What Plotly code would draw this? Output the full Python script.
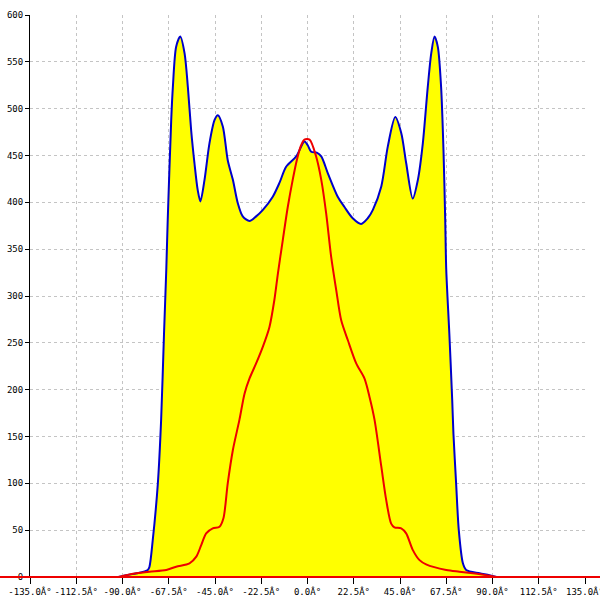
import plotly.graph_objects as go

# Blue series (filled yellow)
blue_x = [-92, -88.2, -83.0, -77.7, -76.9, -75.3, -72.8, -71.2, -69.8, -68.7, -68.0, -66.3, -65.5, -63.9,
          -61.9, -59.8, -58.2, -56.6, -55.0, -53.4, -52.1, -50.1, -47.7, -45.2, -43.6, -41.2, -38.8,
          -36.3, -33.9, -31.5, -28.2, -25.0, -21.7, -16.9, -13.6, -10.4, -5.5, -1.5, 0.1, 1.8, 4.5,
          6.7, 9.9, 14.7, 18.0, 22.0, 26.1, 29.3, 31.8, 35.9, 39.1, 42.7, 45.6, 48.0, 51.2, 53.7,
          56.1, 58.5, 60.2, 61.8, 63.4, 65.0, 66.2, 67.0, 67.5, 69.0, 70.4, 71.0, 72.3, 73.6, 75.6,
          77.2, 83.7, 88.5, 92]
blue_y = [0, 2, 4, 7.5, 10.7, 39, 100, 168, 260, 328, 381, 488, 523, 566,
          577, 559, 523, 477, 442, 413, 401, 424, 463, 488, 493, 481, 445,
          424, 399, 385, 380, 385, 392, 406, 421, 438, 449, 465, 461, 454, 453,
          449, 431, 406, 395, 383, 377, 383, 392, 417, 460, 491, 474, 442, 404, 424,
          463, 523, 559, 577, 566, 523, 452, 381, 328, 260, 189, 153, 100, 50, 14.6,
          7.5, 4, 2, 0]

# Red series
red_x = [-135, -92, -88.2, -83.3, -76.9, -68.7, -63.9, -57.4, -54.1, -51.7, -49.3, -46.1, -42.8,
         -40.9, -38.8, -36.3, -33.1, -30.6, -28.2, -25.0, -21.7, -18.5, -16.1, -14.4, -12.0, -9.6,
         -7.2, -5.2, -3.1, -1.5, 1.0, 4.2, 6.7, 9.1, 11.5, 14.0, 16.4, 19.6, 23.7, 27.7, 30.2,
         32.6, 35.9, 38.3, 40.7, 42.3, 45.6, 48.0, 51.2, 54.5, 57.7, 67.5, 73.9, 80.4, 86.9, 91.8, 135]
red_y = [0, 0, 2, 4, 5.7, 7.5, 11, 14.6, 21.7, 34, 46.6, 52, 53.7,
         62.7, 100, 135.6, 168, 196, 212, 228, 246, 267, 296, 324, 360, 395,
         424, 445, 461, 467, 467, 449, 424, 388, 342, 306, 274, 253, 228, 212, 192,
         168, 118, 82, 57, 53, 52, 46.6, 29, 18, 13.5, 7.5, 5.7, 4, 2, 0, 0]

x_ticks = [-135 + 22.5 * i for i in range(13)]
x_ticktext = [f"{v:.1f}Â°" for v in x_ticks]
y_ticks = list(range(0, 601, 50))

fig = go.Figure()
fig.add_trace(go.Scatter(x=blue_x, y=blue_y, mode="lines", fill="tozeroy",
                         fillcolor="#ffff00", line=dict(color="#0000cc", width=2, shape="spline", smoothing=0.8)))
fig.add_trace(go.Scatter(x=red_x, y=red_y, mode="lines",
                         line=dict(color="#ee0000", width=2, shape="spline", smoothing=0.8)))

fig.add_shape(type="line", xref="paper", yref="paper", x0=-0.06, x1=1.03, y0=0, y1=0,
              line=dict(color="#ee0000", width=2), layer="above")

grid = dict(showgrid=True, gridcolor="#c4c4c4", griddash="3px,3px", gridwidth=1)
fig.update_layout(
    width=600, height=600,
    margin=dict(l=30, r=15, t=15, b=23, autoexpand=False),
    plot_bgcolor="white", paper_bgcolor="white",
    showlegend=False,
    font=dict(family="DejaVu Sans Mono", size=9, color="black"),
    xaxis=dict(range=[-135, 135.001], tickmode="array", tickvals=x_ticks, ticktext=x_ticktext,
               ticks="outside", ticklen=6, tickcolor="black", showline=False, zeroline=False,
               automargin=False, ticklabeloverflow="allow", **grid),
    yaxis=dict(range=[0, 600], tickmode="array", tickvals=y_ticks,
               ticks="outside", ticklen=4, tickcolor="black", showline=True, linecolor="black",
               linewidth=1, zeroline=False, automargin=False, ticklabeloverflow="allow", **grid),
)
fig.write_html("out.html", config={"displayModeBar": False},
               post_script="document.body.style.margin='0px';document.body.style.overflow='hidden';")
